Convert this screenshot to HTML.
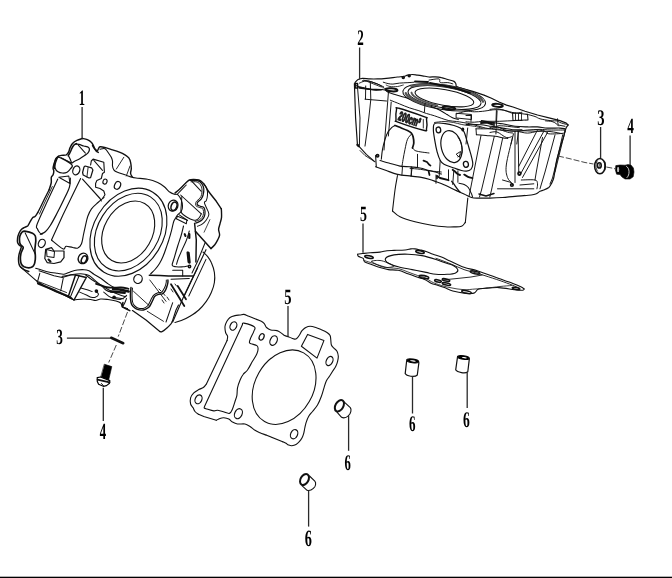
<!DOCTYPE html>
<html><head><meta charset="utf-8"><style>
html,body{margin:0;padding:0;background:#fff;width:672px;height:578px;overflow:hidden}
svg{display:block}
text{text-rendering:geometricPrecision}
.t{will-change:transform}
</style></head><body>
<svg width="672" height="578" viewBox="0 0 672 578">
<rect x="0" y="0" width="672" height="578" fill="#fff"/>
<g class="t" fill="none" stroke="#111" stroke-width="1" stroke-linejoin="round" stroke-linecap="round">

<!-- dowel A -->
<g>
<ellipse cx="412.7" cy="360.9" rx="6.1" ry="1.8" transform="rotate(8 412.7 360.9)" fill="#000" stroke="#000" stroke-width="1.1"/>
<ellipse cx="412.9" cy="360.9" rx="3.0" ry="0.6" transform="rotate(8 412.9 360.9)" fill="#fff" stroke="none"/>
<path d="M406.6,361.2 L405.2,373.6 M418.9,362.6 L417.3,375 M405.2,373.6 C406.5,376.2 414.8,377.6 417.3,375" stroke-width="1.2"/>
</g>
<g>
<ellipse cx="463.4" cy="357.5" rx="6.0" ry="1.8" transform="rotate(8 463.4 357.5)" fill="#000" stroke="#000" stroke-width="1.1"/>
<ellipse cx="464.3" cy="357.7" rx="2.6" ry="0.6" transform="rotate(8 464.3 357.7)" fill="#fff" stroke="none"/>
<path d="M457.5,357.2 L455.7,369.8 M469.3,359.1 L467.8,371.7 M455.7,369.8 C457.2,372.6 465.5,373.8 467.8,371.7" stroke-width="1.2"/>
</g>
<!-- dowel C -->
<ellipse cx="339.4" cy="405.7" rx="6.2" ry="3.9" transform="rotate(-60 339.4 405.7)" stroke-width="2"/>
<path d="M343.5,401.3 L350.3,407.6 C351.6,409.2 351.2,413.6 348.3,415.8 C346.5,417.4 343.5,418.2 341.6,417.3 L337.2,412.4" stroke-width="1.1"/>
<!-- dowel D -->
<ellipse cx="304.5" cy="479.5" rx="5.9" ry="3.9" transform="rotate(-60 304.5 479.5)" stroke-width="2"/>
<path d="M309.5,476 L314.8,481.1 C316.3,482.8 315.8,486.8 313.4,488.3 C311.8,489.8 309,490.8 307.1,490.3 L302.2,485.9" stroke-width="1.1"/>
<!-- washer TR -->
<ellipse cx="599.9" cy="166.1" rx="5.3" ry="7.6" stroke-width="1.5"/>
<path d="M597.5,171 C595.5,169 595.3,163 597.3,161" stroke-width="0.8"/>
<path d="M604.6,162 L605.2,166 L604.6,170" stroke-width="1.6"/>
<ellipse cx="599.3" cy="165.4" rx="1.9" ry="2.6" stroke-width="1.6"/>
<path d="M599.6,164 L599.2,167" stroke-width="0.7"/>
<!-- bolt TR -->
<path d="M616,165.6 L620,165 L625,165.2 L628,164.6 L631,165.1 L633.4,168 L634,172 L633.2,176.8 L630,179 L625,179 L622,177 L620,174.6 L616.6,174.2 L615.4,170 Z" fill="#000" stroke="#000" stroke-width="0.6"/>
<ellipse cx="618.1" cy="169.4" rx="1.1" ry="2.7" fill="#bbb" stroke="none"/>
<path d="M626.5,166.3 C629.8,168 630,175 627,177.6" stroke="#fff" stroke-width="0.8"/>
<!-- bolt left -->
<path d="M104.6,364.3 L111.8,366.6 L108.6,380.3 L101,377.2 Z" fill="#000" stroke="#000" stroke-width="0.6"/>
<path d="M97.2,377.6 L100.5,377 L109.8,380.6 L109.5,383.2 L106.5,385.6 L103.3,386.3 L98.6,384.2 L97.3,381.6 Z" fill="#fff" stroke="#000" stroke-width="1.2"/>
<path d="M97.5,379.6 L109.6,382.4" stroke-width="1.6"/>
<path d="M101.5,383.5 L103.5,385.8" stroke-width="1"/>
<!-- washer left (edge on) -->
<path d="M111.2,337.8 L123.2,343.2" stroke-width="2.6"/>
<path d="M82.5,138.5 C81.6,138.8 78.6,139.6 76.9,140.4 C75.2,141.2 73.7,142.2 72.5,143.5 C71.3,144.8 70.6,146.6 70,147.9 C69.4,149.2 69.4,150.4 68.8,151.6 C68.2,152.8 67.5,154.2 66.3,154.8 C65,155.4 62.7,155.1 61.3,155.4 C59.9,155.7 59,155.9 58.1,156.6 C57.2,157.3 56.3,158.4 55.6,159.8 C54.9,161.2 54.2,163.4 53.8,164.8 C53.4,166.2 53.1,167.5 53.1,168.5 C53.1,169.5 53.8,170 53.8,171 C53.8,172 53.6,173.4 53.2,174.5 C52.8,175.6 51.6,175.9 51.3,177.3 C51,178.7 51.6,180.9 51.2,183 C50.8,185.1 49.4,188.8 49,190" stroke-width="1.46"/>
<path d="M49,190 L44.8,198.3 L40.7,206.7 L37.8,212.5" stroke-width="1.34"/>
<path d="M52.3,186.5 L47.3,197 L43,206 L39.5,214" stroke-width="0.9"/>
<path d="M37.8,212.5 C37.3,213.2 35.8,215.8 35,216.6 C34.2,217.4 33.6,216.7 32.8,217.5 C32,218.3 30.8,220.5 30.3,221.3 C29.8,222.1 30.1,221.8 29.7,222.5 C29.3,223.2 28.8,224.8 27.9,225.7 C27,226.5 25.2,227 24.1,227.6 C23,228.2 22.2,228.6 21.3,229.5 C20.4,230.4 19.6,231.8 19,233.2 C18.4,234.6 17.8,236.3 17.6,237.9 C17.4,239.5 17.3,241.3 17.6,242.5 C17.9,243.7 18.9,244.6 19.5,245.3 C20.1,246 21.2,245.9 21.3,246.7 C21.4,247.5 20.8,248.7 20.4,250 C20,251.3 19.3,253.1 19,254.7 C18.7,256.2 18.5,257.8 18.5,259.3 C18.5,260.9 18.7,262.8 19,264 C19.3,265.2 19.5,265.9 20.4,266.8 C21.2,267.7 22.7,268.8 24.1,269.6 C25.5,270.4 28,271.2 28.8,271.5" stroke-width="1.46"/>
<path d="M20.4,266.8 L36.5,280.8" stroke-width="1.12"/>
<path d="M36.5,280.8 L44,285.8 L55.7,291.7 L64,295 L70.7,298.3 L74,300" stroke-width="1.12"/>
<path d="M82.5,138.5 C83.3,138.7 85.8,139 87.3,139.7 C88.8,140.4 90.5,141.5 91.5,142.5 C92.5,143.5 92.9,144.7 93.5,145.8 C94.1,146.9 94.5,148.4 95.2,149.2 C95.9,150 96.7,150.9 97.5,150.5 C98.3,150.1 98.5,147.2 100,146.8 C101.5,146.4 104.2,147.4 106.3,147.9 C108.4,148.4 110.2,149.1 112.5,149.8 C114.8,150.5 117.9,151.5 120,152.3 C122.1,153.1 123.5,153.9 125,154.8 C126.5,155.7 127.9,156.7 128.8,157.9 C129.7,159.2 130.2,160.5 130.6,162.3 C131,164.1 131.3,166.6 131.3,168.5 C131.3,170.4 130.4,172 130.6,173.5 C130.8,175 132.2,176.7 132.5,177.3" stroke-width="1.4"/>
<path d="M92.5,145.6 C92.8,146.1 93.8,147.8 94.4,148.7 C95,149.6 95.7,150.6 96.3,151.2 C96.9,151.8 98,152.2 98.3,152.4" stroke-width="1.46"/>
<path d="M100,149.3 C100.8,149.2 103.5,148 105,148.7 C106.5,149.4 107.8,152.1 108.8,153.5 C109.8,154.9 110.7,156.1 111.3,157.3 C111.9,158.6 112.3,159.6 112.5,161 C112.7,162.4 112.3,164.5 112.5,166 C112.7,167.5 113,168.8 113.8,169.8 C114.6,170.9 115.6,171.5 117.5,172.3 C119.4,173.1 122.9,174.1 125,174.8 C127.1,175.5 128.2,176.1 130,176.6 C131.8,177.1 133.1,177.6 136,178 C138.9,178.4 144.1,178.4 147.7,179.2 C151.3,179.9 154.9,181.2 157.7,182.5 C160.5,183.8 162.4,185.2 164.3,186.7 C166.2,188.2 167.6,190.4 169.3,191.7 C171,192.9 172.9,193.7 174.3,194.2 C175.7,194.7 176.5,193.6 177.7,194.6 C178.9,195.6 180.5,198.1 181.3,200 C182.1,201.9 182.5,204.4 182.5,206.3 C182.5,208.2 182.1,209.9 181.3,211.3 C180.5,212.8 178.4,213.9 177.5,215 C176.6,216.1 176.2,217 175.6,218.1 C175,219.2 174.3,219.9 173.8,221.3 C173.3,222.7 172.9,224.6 172.5,226.3 C172.1,228 171.9,229 171.3,231.3 C170.7,233.6 169.6,237.3 168.8,240 C168,242.7 167.2,244.8 166.3,247.5 C165.4,250.2 164.2,253.6 163.1,256.3 C162,259 160.8,261.3 159.5,263.5 C158.2,265.7 156.5,267.8 155,269.5 C153.5,271.2 151.2,273.2 150.5,274" stroke-width="1.12"/>
<path d="M123.8,157.3 L116.3,169.1" stroke-width="0.9"/>
<path d="M130,166 L126.3,176" stroke-width="0.9"/>
<path d="M76.5,143.6 C76.1,143.8 74.7,144.3 74,145 C73.3,145.7 72.8,146.6 72.3,147.5 C71.8,148.4 71.5,149.5 71,150.5 C70.5,151.5 70,152.6 69.5,153.5 C69,154.4 68.4,155.4 68.2,155.8" stroke-width="1.57"/>
<path d="M75.9,144.2 C76.4,144.2 77.7,144.1 79,144.4 C80.3,144.7 82.2,145.5 83.8,146 C85.4,146.5 87.7,146.8 88.6,147.5 C89.5,148.2 89.5,149 89.4,149.9 C89.3,150.8 88.6,152.2 87.8,153.1 C87,154 85.9,154.6 84.6,155.5 C83.3,156.4 81.5,157.7 79.8,158.7 C78.1,159.7 75.6,160.8 74.3,161.5 C73,162.2 72.6,163 71.9,162.7 C71.2,162.4 70.8,160.6 70.3,159.5 C69.8,158.4 69,156.8 68.7,156.3" stroke-width="1.23"/>
<path d="M78.3,145.1 L85.4,153.1" stroke-width="1.01"/>
<path d="M61.5,157.9 L71.9,163.3" stroke-width="1.01"/>
<path d="M57.6,157.6 C58.2,157.3 58.3,156.7 60.7,157.9 C63.1,159.1 70.3,163 71.9,164.8 C73.5,166.7 71.1,167.8 70.3,169 C69.5,170.2 68.4,171.5 67.1,172.2 C65.8,172.9 63.9,173.1 62.3,173 C60.7,172.9 58.8,172.2 57.6,171.4 C56.4,170.6 55.6,169.4 55.2,168.2 C54.8,167 54.9,165.8 55.2,164.3 C55.5,162.9 56.4,160.6 56.8,159.5 C57.2,158.4 57,157.9 57.6,157.6 Z" stroke-width="1.23"/>
<path d="M58.4,156.3 C58,156.7 56.6,157.6 56,158.5 C55.4,159.4 55.1,160.8 54.8,162 C54.5,163.2 54.3,164.9 54.2,166 C54.1,167.1 54.4,168.1 54.4,168.5" stroke-width="1.46"/>
<path d="M58.8,177.3 L68.8,176 L70,183.5 L58.8,177.3" stroke-width="1.01"/>
<path d="M70.3,178 C70.2,179.5 70.5,183.2 69.5,186.8 C68.5,190.4 66.2,194.7 64,199.3 C61.8,203.9 58.8,209.9 56.5,214.3 C54.2,218.7 52.2,222.6 50.3,225.5 C48.4,228.4 47,230.3 45.3,231.8 C43.6,233.3 41.1,233.9 40.3,234.3" stroke-width="1.23"/>
<path d="M80.6,178.5 L66.3,208 L62.9,215 L51.5,240" stroke-width="1.12"/>
<path d="M82.5,179.1 L100,198.5 L101.3,201" stroke-width="1.12"/>
<path d="M57.8,179 C56,182.8 50.5,194.4 47,202 C43.5,209.6 38.6,220 37,224.5 C35.4,229 37.1,227.7 37.5,229 C37.9,230.3 38.8,231.6 39.5,232.5 C40.2,233.4 41.6,234.1 42,234.4" stroke-width="1.12"/>
<path d="M85.2,166 L91.6,167.8 L92.9,170 L90.6,177.6 L89,178 L83.2,175 L82.6,172.5 L84,167 Z" stroke-width="1.23"/>
<path d="M88.1,167.5 L86.9,177" stroke-width="0.9"/>
<path d="M90.6,165 L91.3,161 L93.1,159.1 L103.8,162.3 L104.4,172.3 L102.5,173.5 L101.3,178.5 L96.9,180.4 L95.6,183.5 L95.6,187.3 L100,188.5 L103.8,191 L105,194.8 L102.5,198.5" stroke-width="1.12"/>
<path d="M93.8,160.4 L102.5,170.4" stroke-width="1.01"/>
<path d="M51.5,240 C53.4,241.5 60.5,247.7 62.8,248.8 C65.1,250 64.7,247.3 65.3,246.9 C65.9,246.5 65.2,246.2 66.5,246.3 C67.8,246.4 70.9,247.2 72.8,247.5 C74.7,247.8 76.3,248.7 77.8,248.1 C79.2,247.5 80.6,246 81.5,243.8 C82.4,241.6 82.8,237.9 83.4,235 C84,232.1 84.6,229.4 85.3,226.3 C86,223.2 86.8,219.2 87.8,216.3 C88.8,213.4 89.8,211.1 91.5,208.8 C93.2,206.5 95.9,204.4 98,202.5 C100.1,200.6 103,198.3 104,197.5" stroke-width="1.12"/>
<path d="M22.3,231.8 C23.3,231 24.3,231.1 26,231.3 C27.7,231.5 30.9,232.4 32.5,233.2 C34,234 34.8,234.8 35.3,236 C35.8,237.2 35.8,239.1 35.8,240.7 C35.8,242.2 35.4,243.8 35.3,245.3 C35.1,246.9 34.9,248.4 34.9,250 C34.9,251.6 35.2,253.1 35.3,254.7 C35.4,256.2 35.4,257.8 35.3,259.3 C35.1,260.9 34.9,262.8 34.4,264 C33.9,265.2 33.4,266.2 32.5,266.8 C31.6,267.4 30.2,267.8 28.8,267.8 C27.4,267.8 25.4,267.4 24.1,266.8 C22.9,266.2 21.9,265.2 21.3,264 C20.7,262.8 20.5,261 20.4,259.3 C20.3,257.6 20.6,255.2 20.9,253.7 C21.2,252.1 21.9,251.1 22.3,250 C22.7,248.9 23.5,248.1 23.2,247.2 C22.9,246.3 21,245.5 20.4,244.4 C19.8,243.3 19.6,242.1 19.5,240.7 C19.4,239.3 19.4,237.5 19.9,236 C20.4,234.5 21.3,232.6 22.3,231.8 Z" stroke-width="1.68"/>
<path d="M25.1,232.7 L35.3,254.2" stroke-width="1.01"/>
<path d="M45.7,249.3 L51.5,247.7 L54,251 L64,251 L64,257.7 L60.7,261.8 L54,263.5 L47.3,262.7 L44.8,258.5 Z" stroke-width="1.23"/>
<path d="M46.5,249.5 L54.5,251.5 L54,257.5 L47,256.5 Z" stroke-width="1.01"/>
<path d="M48.5,259.5 L50.5,261.5" stroke-width="2.02"/>
<ellipse cx="128.2" cy="232.0" rx="32.9" ry="24.05" transform="rotate(-60 128.2 232.0)" stroke-width="1.12"/>
<ellipse cx="128.3" cy="232.1" rx="41.6" ry="30.4" transform="rotate(-57.8 128.3 232.1)" stroke-width="1.12"/>
<ellipse cx="128.4" cy="232.2" rx="46.9" ry="34.9" transform="rotate(-58.6 128.4 232.2)" stroke-width="1.12"/>
<ellipse cx="173.1" cy="205.6" rx="4.8" ry="5.6" transform="rotate(20 173.1 205.6)" stroke-width="1.23"/>
<ellipse cx="174.0" cy="206.3" rx="2.8" ry="4.4" transform="rotate(20 174.0 206.3)" stroke-width="1.57"/>
<ellipse cx="76.3" cy="170.4" rx="3.4" ry="4.6" transform="rotate(20 76.3 170.4)" stroke-width="1.23"/>
<ellipse cx="41.8" cy="243.4" rx="3.3" ry="4.3" transform="rotate(25 41.8 243.4)" stroke-width="1.23"/>
<ellipse cx="83" cy="258.4" rx="4.7" ry="5.4" transform="rotate(25 83 258.4)" stroke-width="1.34"/>
<ellipse cx="84.0" cy="259.5" rx="2.4" ry="3.9" transform="rotate(25 84.0 259.5)" stroke-width="1.57"/>
<ellipse cx="138" cy="279" rx="4.2" ry="4.5" transform="rotate(20 138 279)" stroke-width="1.23"/>
<ellipse cx="117.5" cy="185.4" rx="2.9" ry="4.0" transform="rotate(25 117.5 185.4)" stroke-width="1.23"/>
<ellipse cx="105" cy="181.6" rx="2.0" ry="2.6" transform="rotate(20 105 181.6)" stroke-width="1.12"/>
<path d="M175,193.1 C175.8,192.4 178.3,190.4 180,188.8 C181.7,187.2 183.4,185.3 185,183.8 C186.6,182.3 187.9,180.7 189.4,180 C190.9,179.3 192.2,179.4 193.8,179.4 C195.4,179.4 197.4,179.5 198.8,180 C200.2,180.5 201.4,181.4 202.5,182.5 C203.6,183.6 204.8,185.1 205.6,186.3 C206.4,187.6 207.2,189.4 207.5,190" stroke-width="1.4"/>
<path d="M207.5,190 L211.3,195 L216.3,201.3 L221.3,208.8" stroke-width="1.4"/>
<path d="M221.3,208.8 C221.3,209.3 221.5,210.5 221.5,212 C221.5,213.5 221.7,215.7 221.5,217.6 C221.3,219.5 220.6,221.4 220.1,223.4 C219.6,225.4 218.7,227.4 218.6,229.3 C218.5,231.2 219.8,233.3 219.6,235.1 C219.4,236.9 218.5,238.3 217.7,239.9 C216.9,241.5 215.9,243.4 214.8,244.8 C213.7,246.2 211.6,248 210.9,248.6" stroke-width="1.4"/>
<path d="M177,194.5 L181.5,189.8 L186.3,185" stroke-width="1.01"/>
<path d="M190,180.3 C191.2,180.4 195.5,180 197.5,180.6 C199.5,181.2 200.8,182.4 201.9,183.8 C203,185.2 203.6,186.9 203.8,188.8 C204,190.7 203.5,193.3 203.1,195 C202.7,196.7 202.2,197.6 201.3,198.8 C200.4,200.1 198.1,201.5 197.5,202.5 C196.9,203.5 197,204.4 197.5,205 C198,205.6 199.5,205.9 200.6,206.3 C201.7,206.7 203.1,206.7 203.8,207.5 C204.5,208.3 204.9,209.8 205,211.3 C205.1,212.8 204.9,214.9 204.4,216.3 C203.9,217.8 202.8,219.1 201.9,220 C201,220.9 199.9,221.4 198.8,221.9 C197.8,222.4 196.1,222.9 195.6,223.1" stroke-width="1.23"/>
<path d="M191,181.8 C192,181.8 195.4,181.5 197,182 C198.6,182.5 199.7,183.8 200.5,185 C201.3,186.2 201.8,187.4 202,189 C202.2,190.6 201.9,193 201.6,194.5 C201.3,196 200.9,196.8 200,198 C199.1,199.2 196.9,200.5 196.2,201.8 C195.5,203.1 195.4,204.8 196,205.8 C196.6,206.8 198.7,207.1 199.8,207.6 C200.9,208.1 202,207.9 202.6,208.6 C203.2,209.2 203.4,210.3 203.5,211.5 C203.6,212.7 203.4,214.6 203,215.8 C202.6,217 201.6,218 200.8,218.8 C200,219.6 199,220 198,220.5 C197,221 195.5,221.4 195,221.6" stroke-width="0.9"/>
<path d="M203.8,183.8 C204.3,184.6 206.3,186.9 206.9,188.8 C207.5,190.7 207.6,193 207.5,195 C207.4,197 206.8,199.3 206.3,200.6 C205.8,201.8 204.4,201.3 204.4,202.5 C204.4,203.7 205.7,206 206.3,207.5 C206.9,209 207.7,210.1 208.1,211.3 C208.5,212.6 209.1,213.6 208.8,215 C208.5,216.4 207.4,218.5 206.3,220 C205.2,221.5 204,222.8 202.5,223.8 C201,224.9 198.3,225.9 197.5,226.3" stroke-width="1.01"/>
<path d="M191.9,181.3 L201.3,191.3" stroke-width="1.01"/>
<path d="M180.6,195 L201.3,213.8" stroke-width="1.01"/>
<path d="M181.9,196.3 C181.8,197.8 181.4,202.3 181.3,205 C181.2,207.7 180.3,210.4 181.3,212.5 C182.3,214.6 185.5,216.2 187.5,217.5 C189.5,218.8 191.6,219.6 193.1,220 C194.6,220.4 195.2,220.4 196.3,220 C197.4,219.6 198.6,218.5 199.4,217.5 C200.2,216.5 201,214.4 201.3,213.8" stroke-width="1.01"/>
<path d="M209.9,219.6 L204.1,232.2" stroke-width="0.78"/>
<path d="M177.5,216.3 L186.9,220 L186.3,223.8 L176.3,218.8 Z" stroke-width="1.01"/>
<path d="M195.4,231.2 L210.9,248.6" stroke-width="1.46"/>
<path d="M183.5,226 C183.1,227.7 182,232.7 181,236 C180,239.3 178.8,242.4 177.7,246 C176.6,249.6 175.2,254.5 174.3,257.7 C173.4,260.9 171.9,263.7 172.2,265.2 C172.5,266.7 174.2,266.5 176,266.8 C177.8,267.1 180.8,266.9 182.7,266.8 C184.6,266.7 186.9,266.1 187.7,266" stroke-width="1.12"/>
<path d="M189.3,231 C188.8,232.5 187.7,236.8 186.5,240 C185.3,243.2 183.3,247 182,250 C180.7,253 179.4,255.6 178.5,258 C177.6,260.4 176.8,263.2 176.5,264.3" stroke-width="1.01"/>
<path d="M194.6,223.5 L196.3,240 L195.9,262" stroke-width="1.46"/>
<path d="M189.3,234 L189.3,238" stroke-width="2.24"/>
<path d="M188.5,253 L189.5,262.5" stroke-width="2.46"/>
<path d="M205.1,242.8 L197.3,262 L192,273" stroke-width="1.01"/>
<path d="M206,249.7 L183.9,296 L172.7,322" stroke-width="1.12"/>
<path d="M197.7,267.7 L184.3,296" stroke-width="1.01"/>
<path d="M206,259.4 L188.8,296" stroke-width="1.01"/>
<ellipse cx="189.5" cy="266.5" rx="1.2" ry="1.2" transform="rotate(0 189.5 266.5)" stroke-width="1.46"/>
<path d="M149.3,275.2 L160,275.6 L168.5,276 L192.7,276" stroke-width="1.46"/>
<path d="M171,279.3 L189.3,278.5" stroke-width="1.01"/>
<path d="M172.7,270.2 L182.7,270.2 L182.7,276" stroke-width="1.01"/>
<path d="M171,284.3 L184.3,306" stroke-width="1.79"/>
<path d="M177.7,286 L186,299.3" stroke-width="1.79"/>
<path d="M172.7,302.7 L166,322" stroke-width="1.01"/>
<path d="M159,289 L161,291" stroke-width="0.9"/>
<path d="M163,293 L165,295.5" stroke-width="0.9"/>
<path d="M167,297 L169,300" stroke-width="0.9"/>
<path d="M171,289 L173,292" stroke-width="0.9"/>
<path d="M176,293 L177.5,295" stroke-width="0.9"/>
<path d="M162,300 L164,303" stroke-width="0.9"/>
<path d="M175,284 L176.5,286" stroke-width="0.9"/>
<path d="M203,252 C203.8,252.7 206.1,254.6 207.5,256.3 C208.9,258.1 210.2,259.8 211.3,262.5 C212.5,265.2 213.9,269.2 214.4,272.5 C214.9,275.8 214.9,279.2 214.4,282.5 C213.9,285.8 212.7,289.4 211.3,292.5 C210,295.6 208.4,298.4 206.3,301.3 C204.2,304.2 201.5,307.5 198.8,310 C196.1,312.5 192.9,314.5 190,316.3 C187.1,318.1 183.8,319.6 181.3,320.6 C178.8,321.6 176.1,322.2 175,322.5" stroke-width="1.12"/>
<path d="M167.9,280 C167.9,280.4 168.1,281.2 167.9,282.5 C167.7,283.8 167.1,286 166.6,287.5 C166.1,289 165.5,290.2 164.8,291.3 C164.1,292.4 163.4,293.3 162.3,293.8 C161.2,294.3 159.8,294 158.5,294.4 C157.2,294.8 155.7,295.4 154.8,296.3 C153.9,297.2 153.5,298.8 152.9,300 C152.3,301.2 151.7,302.6 151,303.8 C150.3,305.1 149.8,306.5 148.5,307.5 C147.2,308.5 145.4,309.7 143.5,310 C141.6,310.3 139.1,310 137.3,309.4 C135.5,308.8 134,307.4 132.9,306.3 C131.8,305.2 131.4,304.4 131,302.5 C130.6,300.6 130.4,297.5 130.4,295 C130.4,292.5 130.9,288.8 131,287.5" stroke-width="1.46"/>
<path d="M166.3,280 C166.3,280.4 166.4,281.4 166.2,282.5 C166,283.6 165.5,285.6 165,286.8 C164.5,288.1 163.9,289.1 163.3,290 C162.7,290.9 162.4,291.7 161.5,292.2 C160.6,292.7 159.2,292.4 158,292.8 C156.8,293.2 155.1,293.9 154,294.8 C152.9,295.8 152.2,297.2 151.5,298.5 C150.8,299.8 150.3,301.4 149.6,302.6 C148.9,303.9 148.6,305 147.5,306 C146.4,307 144.8,308.1 143.2,308.4 C141.6,308.7 139.3,308.4 137.8,307.9 C136.3,307.4 135.2,306.4 134.3,305.4 C133.4,304.4 133,303.7 132.6,302 C132.2,300.3 132,297.3 132,295 C132,292.7 132.4,289.2 132.5,288" stroke-width="1.01"/>
<path d="M133.5,291.3 L148.5,305" stroke-width="0.9"/>
<path d="M149.8,280 L166,301.3" stroke-width="0.9"/>
<path d="M132.5,310.6 L146,320 L159.8,331.5" stroke-width="1.23"/>
<path d="M159.8,331.5 C160.2,331.5 161,332.1 162,331.6 C163,331.2 164.5,330.1 166,328.8 C167.5,327.5 169.9,325.1 171,323.8 C172.1,322.6 172.1,321.7 172.3,321.3" stroke-width="1.23"/>
<path d="M172.3,321.3 L176,310 L178.5,305" stroke-width="1.12"/>
<path d="M147.3,311.3 L163.5,321.3" stroke-width="0.9"/>
<path d="M96,283.8 C98.1,284.4 104.3,286.9 108.5,287.5 C112.7,288.1 117.7,287.3 121,287.5 C124.3,287.7 127.2,288.6 128.5,288.8" stroke-width="1.79"/>
<path d="M111,291.5 L124.7,292.8" stroke-width="2.46"/>
<path d="M112.3,297.5 C113.2,297.6 116.1,297.8 118,298 C119.9,298.2 122.6,298.7 123.5,298.8" stroke-width="1.12"/>
<path d="M122.9,302.5 L122.3,306.9 L126,308.8 L129.8,310.6" stroke-width="1.57"/>
<path d="M35.7,268.3 C37.6,268.9 43.7,270.9 47.3,271.7 C50.9,272.5 54.5,272.9 57.3,273.3 C60.1,273.7 61.8,274.5 64,274.2 C66.2,273.9 68.5,272.4 70.7,271.7 C72.9,271 75.1,270.3 77.3,270 C79.5,269.7 82,269.6 84,269.7 C86,269.8 87.3,270.1 89,270.8 C90.7,271.6 92,272.9 94,274.2 C96,275.4 98.5,276.8 100.7,278.3 C102.9,279.8 105.1,281.8 107.3,283.3 C109.5,284.8 111.8,286.4 114,287.5 C116.2,288.6 118.7,289.4 120.7,290 C122.7,290.6 125.1,290.7 126,290.8" stroke-width="1.12"/>
<path d="M85.7,275 C86.8,275.8 89.8,278.3 92.3,280 C94.8,281.7 97.9,283.3 100.7,285 C103.5,286.7 106.5,288.6 109,290 C111.5,291.4 113.5,292.3 115.7,293.3 C117.9,294.3 120.6,295.2 122.3,295.8 C124,296.4 125.4,296.6 126,296.7" stroke-width="1.01"/>
<path d="M39,270.8 L54,275.8 L62.3,277.5 L70.7,275 L75.5,275" stroke-width="1.01"/>
<path d="M39.8,273.3 L37.3,282.5" stroke-width="1.01"/>
<path d="M63.2,278.3 L60.7,290.8" stroke-width="1.01"/>
<path d="M38,283.5 L55.7,290.8 L67.3,296 L71.5,298.3" stroke-width="2.02"/>
<path d="M39.5,282 L57,288.8 L66.5,292.5" stroke-width="0.9"/>
<path d="M75.5,275 L86.3,277.5 L74,300 L68.3,296.5 Z" stroke-width="1.46"/>
<path d="M79.2,275.5 L70.3,297.3" stroke-width="1.01"/>
<path d="M62,276.5 C63.7,276.1 68.9,274.8 72.4,274.4 C75.9,274 80,273.7 82.8,273.9 C85.6,274.1 87,274.4 89.1,275.5 C91.2,276.6 93.2,279 95.3,280.7 C97.4,282.4 99.8,284.3 101.6,285.9 C103.3,287.4 104.2,289 105.8,290 C107.4,291 109.3,291.8 111,292.1 C112.7,292.4 115.3,291.7 116.2,291.6" stroke-width="1.01"/>
<path d="M80.8,288 L88,290 L92.2,291.6" stroke-width="1.01"/>
<path d="M79.7,292.1 C80.9,292.6 85.1,294.4 87,295.3 C88.9,296.2 89.8,297 91.2,297.3 C92.6,297.6 94.1,297.8 95.3,297.3 C96.5,296.8 98.4,295.2 98.5,294.2 C98.6,293.2 96.4,291.9 96,291.5" stroke-width="1.01"/>
<ellipse cx="96.4" cy="291.1" rx="1.0" ry="1.0" transform="rotate(0 96.4 291.1)" stroke-width="1.68"/>
<ellipse cx="114.1" cy="297.3" rx="1.0" ry="1.0" transform="rotate(0 114.1 297.3)" stroke-width="1.68"/>
<path d="M103.7,292.1 C104.6,292.8 107.2,295.2 108.9,296.3 C110.6,297.4 112.2,297.9 114.1,298.4 C116,298.9 118.6,299.6 120.3,299.4 C122,299.2 123.5,298 124.5,297.3 C125.5,296.6 126.2,295.6 126.6,295.3" stroke-width="1.01"/>
<path d="M113,289 L120,289.5 L128.7,291.5" stroke-width="2.46"/>
<path d="M122.4,306.7 C122.8,306.2 123.8,305 124.5,303.6 C125.2,302.2 126.2,299.3 126.6,298.4" stroke-width="1.01"/>
<path d="M74,300 C74.5,299.9 75.6,299.7 77.3,299.5 C79,299.3 81.8,299 84,299 C86.2,299 88.8,299.2 90.7,299.5 C92.7,299.8 94,300.6 95.7,300.5 C97.4,300.4 98.7,299.2 100.7,299 C102.8,298.8 105.5,299.2 108,299.5 C110.5,299.8 113.9,300.4 116,301 C118.1,301.6 119.6,302.1 120.7,303 C121.8,303.9 121.3,305.8 122.4,306.7 C123.5,307.6 126.7,308.2 127.5,308.5" stroke-width="1.12"/>
<path d="M178.9,214.7 L187.6,220.5" stroke-width="1.01"/>
<path d="M187.6,252.5 L188.6,262" stroke-width="2.24"/>
<path d="M184.7,234.1 L185.5,236" stroke-width="2.02"/><path d="M355,82.6 C355.5,82.1 356.9,80.2 358.1,79.5 C359.4,78.8 360.5,78.4 362.5,78.3 C364.5,78.2 367.5,78.8 370,78.9 C372.5,79 374.8,79 377.5,78.9 C380.2,78.8 383,78.6 386.3,78.3 C389.6,78 394.6,77.3 397.5,77 C400.4,76.7 402.1,76.7 403.8,76.4 C405.5,76.1 406.1,75.4 407.5,75.1 C408.9,74.8 410.8,74.5 412.5,74.5 C414.2,74.5 415.8,74.9 417.5,75.1 C419.2,75.3 420.6,75.5 422.5,75.8 C424.4,76.1 426.9,76.8 429,77 C431.1,77.2 433.2,76.7 435.3,76.8 C437.4,76.9 439.4,77.1 441.5,77.6 C443.6,78 445.7,78.9 447.8,79.5 C449.9,80.1 452.6,80.7 454,81.4 C455.4,82.1 455.5,83.1 455.9,83.9 C456.3,84.7 455.6,85.7 456.5,86.4 C457.4,87.1 460.7,88 461.5,88.3" stroke-width="1.19"/>
<path d="M461.5,88.3 L472.8,91.4 L484,95.1 L491.5,98.3 L499,102 L506.5,105.1 L513,107 L525,111.3 L537.5,115 L550,118.1 L560,120.6 L566.3,123.1 L568.1,125" stroke-width="1.19"/>
<path d="M568.1,125 C567.8,125.4 566.8,126.5 566.3,127.5 C565.8,128.6 565.4,129.8 565,131.3 C564.6,132.8 564.4,134.2 563.8,136.3 C563.2,138.4 562.1,141.1 561.3,143.8 C560.5,146.5 559.6,149.5 558.8,152.5 C558,155.5 557.1,157.8 556.3,162 C555.5,166.2 554.6,173.9 553.8,177.5 C553,181.1 552.1,182.1 551.3,183.8 C550.5,185.5 550,186.5 548.8,187.5 C547.5,188.5 545.3,189.4 543.8,190 C542.3,190.6 541.2,190.7 540,191.3 C538.8,191.9 537.8,193.2 536.3,193.8 C534.8,194.4 534.8,194.6 531.3,195 C527.8,195.4 519.8,195.9 515,196.3 C510.2,196.7 506.7,197.2 502.5,197.5 C498.3,197.8 493.9,198 490,198.1 C486.1,198.2 482.1,198.2 479,198.1 C475.9,198 474,198.2 471.5,197.5 C469,196.8 466.9,195.3 464,194 C461.1,192.7 457.3,191.1 454,189.5 C450.7,187.9 446.9,186 444,184.7 C441.1,183.4 439,182.7 436.5,181.8 C434,180.9 431.8,180 429,179.2 C426.2,178.4 422.9,177.7 420,177.2 C417.1,176.7 415.1,176.6 411.3,176.1 C407.6,175.6 401.7,175.2 397.5,174.3 C393.3,173.4 389.9,171.8 386.3,170.5 C382.7,169.2 377.4,167.4 375.6,166.8" stroke-width="1.19"/>
<path d="M354.4,83.9 C354.9,84.3 355.9,85.7 357.5,86.4 C359.1,87.1 361.7,87.8 363.8,88.3 C365.9,88.8 367.9,89.2 370,89.5 C372.1,89.8 374.4,90.1 376.3,90.1 C378.2,90.1 379.9,89.5 381.3,89.5 C382.8,89.5 383.8,89.6 385,90.1 C386.2,90.6 387.1,91.9 388.8,92.6 C390.5,93.3 392.4,93.7 395,94.5 C397.6,95.3 401.4,96.3 404.6,97.3 C407.8,98.3 410.9,99.6 414.1,100.7 C417.3,101.8 420.8,103.1 423.6,104 C426.4,104.9 428.4,105.5 430.7,106.3 C433,107.1 435.5,108.2 437.4,109.1 C439.3,110 440.5,110.6 442.1,111.5 C443.7,112.4 445.4,113.5 447,114.5 C448.6,115.5 450.1,116.7 452,117.5 C453.9,118.3 457.2,119.2 458.3,119.6" stroke-width="1.08"/>
<path d="M456.4,113.9 C458,113.5 463,111.7 466,111.3 C469,110.9 471.5,111.8 474.3,111.8 C477.1,111.8 479.9,111.6 482.7,111.3 C485.5,111 488.8,110.4 491,110.1 C493.2,109.8 493.9,109.7 496,109.7 C498.1,109.7 501.3,109.7 503.5,110.1 C505.7,110.5 507.5,111.7 509.3,112.2 C511.1,112.8 512.2,113.4 514.3,113.4 C516.4,113.4 520.7,112.4 522,112.2" stroke-width="0.97"/>
<path d="M390.3,100.2 C391.9,100.8 396.6,102.7 399.8,104 C403,105.3 406.1,106.7 409.3,107.8 C412.5,108.9 416,109.8 418.9,110.7 C421.8,111.7 423.9,112.7 426.5,113.5 C429.1,114.3 432.1,115 434.5,115.8 C436.9,116.6 438.8,117.4 441.2,118.2 C443.6,119 446.3,120 448.8,120.6 C451.3,121.1 454,121.2 456.4,121.5 C458.8,121.8 460.4,122 463.1,122.5 C465.8,123 469.4,123.6 472.6,124.4 C475.8,125.2 479.4,126.5 482.1,127.2 C484.8,127.9 486,128.2 489,128.7 C492,129.2 496,129.6 500,130 C504,130.4 508.8,130.9 513,131 C517.2,131.1 520.9,130.8 525,130.8 C529.1,130.9 533.3,131.2 537.5,131.3 C541.7,131.4 545.8,131.1 550,131.5 C554.2,131.9 560.4,133.4 562.5,133.8" stroke-width="0.97"/>
<path d="M434.5,122.5 C436.1,122.3 440.8,121.5 444,121.5 C447.2,121.5 450.7,122 453.6,122.5 C456.5,123 459,123.9 461.2,124.4 C463.4,124.9 464.7,125 466.9,125.3 C469.1,125.6 472,125.8 474.5,126.3 C477,126.8 480.8,127.9 482.1,128.2" stroke-width="0.86"/>
<path d="M365,99.2 L386.5,101" stroke-width="0.97"/>
<path d="M359.5,83.1 C360.3,82.8 362.7,81.5 364.3,81.2 C365.9,80.9 367.2,80.9 369,81.2 C370.8,81.5 373.1,82.5 374.8,83.1 C376.6,83.7 378.2,84.3 379.5,85 C380.8,85.7 381.6,86.4 382.4,87 C383.2,87.6 384,88.2 384.3,88.4" stroke-width="0.97"/>
<path d="M358.6,86.5 C359.6,86.7 362.2,87.4 364.3,87.9 C366.4,88.4 368.6,89 371,89.3 C373.4,89.6 376.7,89.8 378.6,89.8 C380.5,89.8 381.8,89.4 382.4,89.3" stroke-width="0.97"/>
<path d="M383.3,82.2 C384.1,82.4 386.5,83.3 388.1,83.6 C389.7,83.9 391,84.2 392.9,84.1 C394.8,84 397.1,83.3 399.5,83.1 C401.9,82.9 404.7,82.8 407.1,82.7 C409.5,82.6 412.9,82.3 414,82.2" stroke-width="0.97"/>
<path d="M386.2,85 C386.8,85.2 388.1,86.2 390,86.5 C391.9,86.8 395.4,86.8 397.6,86.5 C399.8,86.2 402.4,85.2 403.3,85" stroke-width="0.86"/>
<path d="M354.4,83.9 L355.6,118 L357.5,145.5" stroke-width="1.19"/>
<path d="M357.5,87 L360,118 L359.4,144.9" stroke-width="0.97"/>
<path d="M370.3,82 L370.8,99.5 L368.8,118 L365,146.1" stroke-width="0.97"/>
<path d="M388.4,92.6 L385,136 L384,150" stroke-width="0.97"/>
<path d="M391.2,102.1 L388.4,136" stroke-width="0.97"/>
<path d="M357.5,144.9 L358.8,146.1" stroke-width="2.38"/>
<path d="M358.8,146.1 L366.3,154.3 L375,161.8" stroke-width="1.08"/>
<path d="M360,150.5 L365,155.5 L373.8,161.1" stroke-width="0.86"/>
<path d="M375.6,155.5 L376.3,166.8" stroke-width="1.08"/>
<ellipse cx="377.5" cy="155.8" rx="1.2" ry="1.2" transform="rotate(0 377.5 155.8)" stroke-width="1.62"/>
<path d="M380,160.5 C381.5,160.9 385.5,162.1 388.8,163 C392.1,163.9 396.5,165.5 400,166.1 C403.5,166.7 406.7,166.5 410,166.8 C413.3,167.1 416.8,167.4 420,168 C423.2,168.6 426.4,169.8 429,170.5 C431.6,171.2 433.2,171.4 435.3,172 C437.4,172.6 440.5,173.7 441.5,174" stroke-width="1.08"/>
<path d="M402.5,166.8 L401.9,174.9" stroke-width="0.97"/>
<path d="M411.3,166.8 L411.3,176.1" stroke-width="0.97"/>
<path d="M381.3,159.3 C381.5,157.6 381.9,152.6 382.5,149.3 C383.1,146 384.1,142.2 385,139.3 C385.9,136.4 387,133.8 388.1,131.8 C389.2,129.8 390.8,128.5 391.9,127.4 C393,126.4 394.5,125.8 395,125.5" stroke-width="1.08"/>
<path d="M395,125.5 C396.1,125.9 399.2,127.2 401.3,128 C403.4,128.8 405.8,129.7 407.5,130.5 C409.2,131.3 410.4,131.9 411.3,133 C412.2,134.1 412.7,135.1 413.1,136.8 C413.5,138.5 413.9,141.1 413.8,143 C413.7,144.9 412.7,147.2 412.5,148" stroke-width="1.73"/>
<path d="M411.3,134.3 C410.7,135.1 408.6,136.8 407.5,139.3 C406.4,141.8 405.7,146 405,149.3 C404.3,152.6 403.6,156.4 403.1,159.3 C402.6,162.2 402.1,165.6 401.9,166.8" stroke-width="0.97"/>
<path d="M412.5,148 C412.9,148.4 413.8,149.9 415,150.5 C416.2,151.1 417.7,151.4 420,151.8 C422.3,152.2 427.5,152.8 429,153" stroke-width="0.97"/>
<path d="M417.5,154.3 L417.5,166.8" stroke-width="0.97"/>
<path d="M397.5,175.5 C397.1,177.9 395.8,184.1 395,190 C394.2,195.9 392.9,207.5 392.5,211" stroke-width="1.08"/>
<path d="M392.5,211 C393.8,212 396.2,215 400,216.8 C403.8,218.6 409.7,220.4 415,221.8 C420.3,223.2 426.7,224.4 431.7,225.2 C436.7,226 441.3,226.5 445,226.8 C448.7,227.1 451.2,227 454,226.9 C456.8,226.8 459.6,227 461.5,226.3 C463.4,225.6 464.7,223.1 465.3,222.5" stroke-width="1.08"/>
<path d="M465.3,222.5 L467.8,198.1" stroke-width="1.08"/>
<path d="M396.5,109.7 C397,107.7 394.2,107.1 398.9,108.3 C403.6,109.5 420,115.2 424.6,116.9 C429.2,118.7 426.2,116.8 426.5,118.8 C426.8,120.8 427,126.9 426.5,128.8 C426,130.7 428.4,131.3 423.6,130.2 C418.8,129.1 402.5,123.8 397.9,122.1 C393.3,120.4 396.2,122.3 396,120.2 C395.8,118.1 396,111.7 396.5,109.7 Z" stroke-width="1.4"/>
<path d="M423.3,119.5 L423.3,128" stroke-width="0.86"/>
<text transform="translate(397.6,119.6) rotate(19) scale(0.52,1)" font-family="Liberation Sans" font-weight="bold" font-size="12.5" fill="#000" stroke="#222" stroke-width="1.3">200cm³</text>
<ellipse cx="444.4" cy="97.45" rx="29.8" ry="7.9" transform="rotate(10.2 444.4 97.45)" stroke-width="1.08"/>
<ellipse cx="444.5" cy="97.5" rx="37.0" ry="10.4" transform="rotate(9.6 444.5 97.5)" stroke-width="1.08"/>
<ellipse cx="444.2" cy="97.3" rx="41.8" ry="12.3" transform="rotate(8.6 444.2 97.3)" stroke-width="1.08"/>
<path d="M411.6,86.4 C412,86.3 413.1,86 413.9,85.8 C414.7,85.6 415.6,85.4 416.5,85.3 C417.5,85.2 418.4,85 419.4,84.9 C420.5,84.8 421.5,84.7 422.6,84.7 C423.7,84.6 424.8,84.6 426,84.6 C427.2,84.6 428.4,84.6 429.6,84.6 C430.8,84.6 432.1,84.7 433.3,84.8 C434.6,84.8 435.9,84.9 437.2,85.1 C438.5,85.2 439.8,85.3 441.1,85.5 C442.4,85.6 443.7,85.8 445.1,86 C446.4,86.2 447.7,86.4 449,86.7 C450.3,86.9 451.6,87.2 452.9,87.4 C454.2,87.7 455.5,88 456.7,88.3 C458,88.6 459.2,88.9 460.4,89.3 C461.6,89.6 462.8,90 464,90.3 C465.1,90.7 466.2,91.1 467.3,91.5 C468.3,91.8 469.4,92.2 470.4,92.6 C471.3,93.1 472.3,93.5 473.2,93.9 C474.1,94.3 474.9,94.7 475.7,95.2 C476.5,95.6 477.2,96 477.9,96.4 C478.6,96.9 479.2,97.3 479.7,97.8 C480.3,98.2 480.8,98.6 481.2,99.1 C481.6,99.5 482,99.9 482.3,100.3 C482.6,100.8 482.9,101.4 483,101.6" stroke-width="2.38" stroke="#555" stroke-dasharray="1.2,1"/>
<path d="M429.4,105.8 C429.1,105.7 428.4,105.5 427.9,105.4 C427.3,105.2 426.8,105.1 426.3,104.9 C425.8,104.8 425.3,104.6 424.8,104.5 C424.4,104.3 423.9,104.1 423.4,104 C422.9,103.8 422.4,103.7 422,103.5 C421.5,103.3 421.1,103.2 420.6,103 C420.2,102.8 419.7,102.7 419.3,102.5 C418.9,102.3 418.4,102.2 418,102 C417.6,101.8 417.2,101.6 416.8,101.5 C416.4,101.3 416,101.1 415.6,100.9 C415.2,100.7 414.9,100.6 414.5,100.4 C414.1,100.2 413.8,100 413.4,99.8 C413.1,99.6 412.8,99.5 412.4,99.3 C412.1,99.1 411.8,98.9 411.5,98.7 C411.2,98.5 410.9,98.4 410.6,98.2 C410.3,98 410.1,97.8 409.8,97.6 C409.6,97.4 409.3,97.2 409.1,97 C408.8,96.9 408.6,96.7 408.4,96.5 C408.2,96.3 408,96.1 407.8,95.9 C407.6,95.7 407.4,95.6 407.2,95.4 C407.1,95.2 406.9,95 406.8,94.8 C406.6,94.6 406.5,94.5 406.4,94.3 C406.2,94.1 406.1,93.9 406,93.7 C405.9,93.6 405.8,93.3 405.8,93.2" stroke-width="2.38" stroke="#555" stroke-dasharray="1.2,1"/>
<path d="M437.2,105.4 C436.9,105.3 436,105.1 435.4,105 C434.9,104.8 434.3,104.7 433.7,104.5 C433.2,104.4 432.6,104.3 432.1,104.1 C431.5,103.9 430.9,103.8 430.4,103.6 C429.9,103.5 429.3,103.3 428.8,103.1 C428.3,103 427.8,102.8 427.2,102.6 C426.7,102.5 426.2,102.3 425.7,102.1 C425.2,101.9 424.8,101.8 424.3,101.6 C423.8,101.4 423.4,101.2 422.9,101 C422.4,100.9 422,100.7 421.6,100.5 C421.1,100.3 420.7,100.1 420.3,99.9 C419.9,99.7 419.5,99.5 419.1,99.4 C418.7,99.2 418.4,99 418,98.8 C417.7,98.6 417.3,98.4 417,98.2 C416.7,98 416.3,97.8 416,97.6 C415.7,97.4 415.4,97.2 415.2,97 C414.9,96.8 414.6,96.6 414.4,96.5 C414.1,96.3 413.9,96.1 413.7,95.9 C413.5,95.7 413.3,95.5 413.1,95.3 C412.9,95.1 412.7,94.9 412.6,94.7 C412.4,94.5 412.3,94.4 412.2,94.2 C412.1,94 412,93.8 411.9,93.6 C411.8,93.4 411.7,93.3 411.7,93.1 C411.6,92.9 411.6,92.7 411.5,92.6" stroke-width="1.94" stroke="#555" stroke-dasharray="1.2,1"/>
<path d="M429,80.1 C430.7,79.9 437.1,78.5 439,78.9 C440.9,79.3 438.8,82 440.3,82.6 C441.8,83.2 445.7,82.4 447.8,82.6 C449.9,82.8 452,83.7 452.8,83.9" stroke-width="0.97"/>
<path d="M362.5,80.8 C363.3,80.8 365.6,80.5 367.5,80.8 C369.4,81.1 371.7,81.9 373.8,82.6 C375.9,83.3 378.3,84.4 380,85.1 C381.7,85.8 383.2,86.7 383.8,87" stroke-width="0.97"/>
<path d="M363.8,80.1 L381.3,87" stroke-width="0.86"/>
<path d="M430,83 L455,88 L470,93" stroke-width="1.94"/>
<path d="M415,81.5 L428,82" stroke-width="1.94"/>
<ellipse cx="391.5" cy="89.8" rx="6.0" ry="1.5" transform="rotate(5 391.5 89.8)" stroke-width="1.94"/>
<ellipse cx="448.8" cy="108.2" rx="6.5" ry="1.5" transform="rotate(5 448.8 108.2)" stroke-width="1.94"/>
<ellipse cx="497.5" cy="105.4" rx="5.3" ry="1.5" transform="rotate(5 497.5 105.4)" stroke-width="1.94"/>
<path d="M456.5,113.3 L471.5,114.5 L471.5,119.5 L456.5,118 Z" stroke-width="0.97"/>
<path d="M481.5,120.8 L494,123 L494,127" stroke-width="1.51"/>
<path d="M497.1,110.8 L495.9,134" stroke-width="0.97"/>
<path d="M425,103.3 L424.4,112" stroke-width="0.97"/>
<path d="M434,124.3 C434.7,123 435.9,123.1 437.8,123 C439.7,122.9 442.6,123.2 445.3,123.6 C448,124 451.5,124.8 454,125.5 C456.5,126.2 458.6,127 460.3,128 C462,129.1 463,129.9 464,131.8 C465,133.7 465.7,136.6 466.5,139.3 C467.3,142 468.2,145.1 469,148 C469.8,150.9 470.9,154.1 471.5,156.8 C472.1,159.5 472.9,162.2 472.8,164.3 C472.7,166.4 471.9,168.2 470.9,169.3 C469.8,170.4 468.1,170.9 466.5,171.1 C464.9,171.3 463.6,171 461.5,170.5 C459.4,170 456.9,169 454,168 C451.1,167 446.3,165.6 444,164.3 C441.7,163.1 441.4,162.6 440.3,160.5 C439.2,158.4 438.1,155.3 437.1,151.8 C436.2,148.3 435.2,142.9 434.6,139.3 C434,135.8 433.5,133 433.4,130.5 C433.3,128 433.3,125.5 434,124.3 Z" stroke-width="1.19"/>
<ellipse cx="451.5" cy="146.6" rx="10.2" ry="16.3" transform="rotate(-14 451.5 146.6)" stroke-width="1.19"/>
<path d="M457.8,136.8 C458.3,137.8 460.3,140.5 461,143 C461.7,145.5 462.3,149.7 462.1,151.8 C461.9,153.9 460.7,154.7 460,155.5 C459.3,156.3 458.2,156.6 457.8,156.8" stroke-width="0.97"/>
<path d="M456.5,154 L460.5,151.5 L459.5,157 Z" stroke-width="0.97"/>
<ellipse cx="438.4" cy="129.9" rx="2.3" ry="2.9" transform="rotate(-10 438.4 129.9)" stroke-width="1.3"/>
<ellipse cx="465.9" cy="164.3" rx="2.5" ry="3.0" transform="rotate(-10 465.9 164.3)" stroke-width="1.3"/>
<ellipse cx="462.8" cy="129.5" rx="0.8" ry="1.2" transform="rotate(0 462.8 129.5)" stroke-width="1.4"/>
<path d="M481,135.5 L470.3,190 L469,196.5" stroke-width="0.97"/>
<path d="M494.3,136.3 L481.5,190 L479.5,197" stroke-width="0.97"/>
<path d="M502.7,138 L491.5,190 L489.8,197" stroke-width="0.97"/>
<path d="M502.5,180 L511.3,182.5 L512.5,185" stroke-width="0.97"/>
<path d="M521.3,180 C523.6,180 532.3,179.4 535,180 C537.7,180.6 537.2,182.3 537.5,183.8 C537.8,185.3 537,188 536.9,188.8" stroke-width="0.97"/>
<path d="M520,185 L533.8,183.8" stroke-width="0.97"/>
<path d="M497.5,188.8 L533.8,188.8" stroke-width="0.97"/>
<ellipse cx="519.4" cy="173.6" rx="1.4" ry="1.6" transform="rotate(0 519.4 173.6)" stroke-width="1.73"/>
<ellipse cx="511.9" cy="185" rx="1.3" ry="1.3" transform="rotate(0 511.9 185)" stroke-width="1.62"/>
<path d="M479,194 L486,196 L494,193.5" stroke-width="1.51"/>
<path d="M490,109.4 C491.2,109.3 495,108.6 497.5,108.8 C500,109 502.5,109.9 505,110.5 C507.5,111.1 511.2,112.2 512.5,112.5" stroke-width="0.97"/>
<path d="M512.5,112.5 L527.5,114.4 L528,120 L513,120.5 Z" stroke-width="1.08"/>
<path d="M515.5,113 L515.5,120.3" stroke-width="0.86"/>
<path d="M518.5,113.4 L518.5,120.2" stroke-width="0.86"/>
<path d="M521.5,113.7 L521.5,120.1" stroke-width="0.86"/>
<path d="M527.5,114.4 C528.8,114.8 532.9,115.8 535,116.5 C537.1,117.2 537.5,118.1 540,118.8 C542.5,119.5 547.1,120.2 550,120.6 C552.9,121 555.8,120.7 557.5,121 C559.2,121.3 558.5,121.9 560,122.5 C561.5,123.1 565.2,124.1 566.3,124.4" stroke-width="0.97"/>
<path d="M557.5,118.8 L558.1,125 L565,126.3" stroke-width="0.97"/>
<path d="M490,122.5 C492.1,122.7 498.3,123.2 502.5,123.8 C506.7,124.4 510.8,125.8 515,126.3 C519.2,126.8 523.8,126.8 527.5,126.9 C531.2,127 534.2,126.7 537.5,126.9 C540.8,127.1 543.8,127.9 547.5,128.1 C551.2,128.3 557.1,128 560,128.1 C562.9,128.2 564.2,128.7 565,128.8" stroke-width="1.08"/>
<path d="M490,127.5 C491.2,127.4 495,126.5 497.5,126.9 C500,127.3 502.1,129.3 505,130 C507.9,130.7 511.2,131.3 515,131.3 C518.8,131.3 523.3,130.3 527.5,130 C531.7,129.7 536.2,129.4 540,129.4 C543.8,129.4 545.8,129.9 550,130 C554.2,130.1 562.5,130 565,130" stroke-width="0.97"/>
<path d="M490,132.5 C491.2,132.4 494.3,131.2 497,132 C499.7,132.8 503.8,136.8 506.3,137.5 C508.8,138.2 511.1,136.7 512,136.5" stroke-width="0.97"/>
<path d="M517.5,131.3 C519.2,131.6 524.2,133.1 527.5,133.1 C530.8,133.1 534.8,131.7 537.5,131.3 C540.2,130.9 541.9,130.2 543.8,130.6 C545.7,131 545.5,133.4 548.8,133.8 C552.1,134.2 561.2,133.7 563.8,133.1 C566.4,132.5 564.3,130.5 564.4,130" stroke-width="0.97"/>
<path d="M512.5,137.5 C511.5,142.1 507.1,158.3 506.3,165 C505.5,171.7 506.5,174.4 507.5,177.5 C508.5,180.6 511.7,182.8 512.5,183.8" stroke-width="0.97"/>
<path d="M515,131.3 L515,182.5" stroke-width="0.97"/>
<path d="M518.1,132.5 L518.8,175" stroke-width="0.97"/>
<path d="M537.5,130 L518.8,166.3" stroke-width="0.97"/>
<path d="M543.8,131.3 L520,175" stroke-width="0.97"/>
<path d="M547.5,132.5 L522.5,177.5" stroke-width="0.97"/>
<path d="M542.5,137.5 L536.3,172 L535,180" stroke-width="0.97"/>
<path d="M555,135 L545,172 L540,188.8" stroke-width="0.97"/>
<path d="M565,131.3 L555,172" stroke-width="0.97"/>
<path d="M496.4,110.5 L496,121.3" stroke-width="0.97"/>
<path d="M466,121.8 C467.4,121.9 471.5,122.3 474.3,122.2 C477.1,122.1 479.9,121.5 482.7,121.3 C485.5,121.1 488.2,121.3 491,121.3 C493.8,121.3 496.5,121.4 499.3,121.3 C502.1,121.2 504.9,121 507.7,120.9 C510.5,120.8 513.6,120.6 516,120.5 C518.4,120.4 521,120.5 522,120.5" stroke-width="0.97"/>
<path d="M466,124.7 C466.8,124.6 468.5,124.3 471,124.3 C473.5,124.3 477.7,124.4 481,124.7 C484.3,125 488.2,125.9 491,126.3 C493.8,126.7 495.5,126.8 497.7,127.2 C499.9,127.6 501.8,128 504.3,128.4 C506.8,128.8 509.8,129.5 512.7,129.7 C515.7,129.9 520.5,129.7 522,129.7" stroke-width="1.08"/>
<path d="M476,128.8 C477.8,128.8 483.6,128.9 486.8,128.8 C490,128.7 493.4,128.5 495.2,128 C497,127.5 496.3,126.2 497.7,125.9 C499.1,125.6 501.1,125.8 503.5,125.9 C505.9,126.1 509.2,126.5 511.8,126.8 C514.4,127.1 518,127.5 519.3,127.6" stroke-width="0.97"/>
<path d="M476,128.8 L476.4,134.7" stroke-width="0.97"/>
<path d="M476.4,134.7 C478,134.8 482.9,135.2 486,135.5 C489.1,135.8 492.3,135.9 495.2,136.3 C498.1,136.7 501.4,137.7 503.5,138 C505.6,138.3 507,138.3 507.7,138.4" stroke-width="1.08"/>
<path d="M497.7,128.8 C499.4,129.4 505.2,131.5 507.7,132.2 C510.2,132.9 511.9,132.9 512.7,133" stroke-width="0.97"/>
<path d="M481,123 L487,122.5 L492.7,124.5" stroke-width="1.94"/>
<path d="M513.5,133.8 L511,144" stroke-width="0.97"/>
<path d="M518.5,131.3 L516.8,144" stroke-width="0.97"/>
<path d="M467.7,128 L466,144" stroke-width="0.97"/>
<path d="M466,115.5 L471,115.5 L471,121.3" stroke-width="0.97"/>
<path d="M365.7,86 L365.5,99" stroke-width="0.97"/>
<path d="M355,83.5 L357.5,83.5 L357.8,88 L355.3,88 Z" stroke-width="1.51"/>
<ellipse cx="403.3" cy="77.6" rx="1.0" ry="0.9" transform="rotate(0 403.3 77.6)" stroke-width="1.51"/>
<ellipse cx="409.2" cy="75.8" rx="1.0" ry="0.9" transform="rotate(0 409.2 75.8)" stroke-width="1.51"/>
<path d="M359.5,87.9 L370,89.2 L381.4,89.8" stroke-width="1.62"/>
<path d="M412.1,167.7 L411,176" stroke-width="0.97"/>
<path d="M436,175 L436,183.3" stroke-width="0.97"/>
<path d="M440.2,160.4 L439.2,176" stroke-width="0.97"/>
<path d="M448.5,169.8 L448.5,180.2" stroke-width="0.97"/>
<path d="M453.8,170.8 L452.7,184.4" stroke-width="0.97"/>
<path d="M457.9,170.8 L457.9,182.3" stroke-width="0.97"/>
<path d="M410,168.3 C411.7,168.5 416.9,168.9 420.4,169.3 C423.9,169.8 427.3,170.6 430.8,171 C434.3,171.4 439.6,171.8 441.3,172" stroke-width="0.97"/>
<path d="M423.5,160.6 L427,162 L429,164.5 L430.5,165.6" stroke-width="1.73"/>
<path d="M428.5,170.8 L429.5,175" stroke-width="1.73"/>
<path d="M437,176 L440,178 L448.5,180.2" stroke-width="1.84"/>
<path d="M437,176 L437,178.5" stroke-width="1.62"/>
<path d="M452.7,169.8 C453.1,170.1 454.3,170.9 455,171.5 C455.7,172.1 456.2,172.9 457,173.5 C457.8,174.1 459.5,174.8 460,175" stroke-width="1.94"/>
<path d="M464.2,174.6 C464.8,175 466.6,176.2 468,176.8 C469.4,177.4 471.8,177.9 472.5,178.1" stroke-width="1.84"/>
<path d="M451.7,181.3 C452.2,182 453.8,184 454.8,185.4 C455.8,186.8 457,188.5 457.9,189.6 C458.8,190.7 459.6,191.6 460,192" stroke-width="1.3"/>
<path d="M459,183.3 C459.9,183.5 462.6,183.7 464.2,184.4 C465.8,185.1 467.1,185.9 468.3,187.5 C469.5,189.1 470.8,192.2 471.5,193.8 C472.2,195.4 472.3,196.4 472.5,196.9" stroke-width="1.08"/>
<path d="M562.7,134.9 L557,160 L552.5,178 L550,184" stroke-width="0.97"/>
<path d="M545.6,120.9 C546.7,121 550.3,121.1 552,121.5 C553.7,121.9 554.9,122.8 556,123.5 C557.1,124.2 558.1,125.6 558.5,126" stroke-width="0.97"/><path d="M357.6,254.2 C358.4,254.1 360.4,253.7 362.5,253.5 C364.6,253.3 367.3,253 370.2,252.8 C373.1,252.6 377.2,252.4 380,252.1 C382.8,251.8 384.7,251 387,250.7 C389.3,250.4 391,250.5 394,250.4 C397,250.3 402.3,250.2 405.1,250 C407.9,249.8 409.1,249.1 410.7,248.9 C412.3,248.7 413.3,248.7 414.9,248.9 C416.5,249.1 418.6,249.6 420.5,250 C422.4,250.4 424,250.7 426.1,251.4 C428.2,252.1 430.5,253.3 433.1,254.2 C435.7,255.1 438.7,255.9 441.5,257 C444.3,258.1 446.2,259.3 450,261 C453.8,262.7 459.8,265.8 464,267.3 C468.2,268.8 471.7,269.1 475.2,270.1 C478.7,271.2 481.1,272.2 485,273.6 C488.9,275 494.2,276.9 498.9,278.5 C503.5,280.1 509.2,282 512.9,283.4 C516.6,284.8 519.4,286 521.3,286.9 C523.2,287.8 523.6,288.6 524.1,289" stroke-width="1.1"/>
<path d="M436,258.3 C438.3,259.2 445.3,261.7 450,263.6 C454.7,265.5 459.8,268.1 464,269.6 C468.2,271.1 471.5,271.6 475,272.6 C478.5,273.6 480.8,274.4 485,275.7 C489.2,277 495.5,279.1 500,280.6 C504.5,282.2 508.7,283.7 512,285 C515.3,286.3 518.6,287.8 519.9,288.3" stroke-width="0.9"/>
<path d="M524.1,289 C523.9,289.2 524.3,290.2 522.7,290.3 C521.1,290.4 518.3,290.1 514.3,289.7 C510.3,289.2 503.8,287.8 498.9,287.6 C494,287.4 488.5,288 485,288.3 C481.5,288.6 479.8,288.5 478,289.3 C476.2,290.1 476.3,292.5 474,293.1 C471.7,293.7 467.5,293.5 464,293.1 C460.5,292.8 456.1,291.9 452.8,291 C449.5,290.1 447.2,288.6 444.4,287.6 C441.6,286.6 438.1,285.5 436,284.8 C433.9,284.1 433.6,284.5 431.7,283.6 C429.8,282.7 427,280.4 424.7,279.4 C422.4,278.3 420.5,278.2 417.7,277.3 C414.9,276.4 411.2,275 408,273.8 C404.8,272.6 401.5,271 398.2,270.3 C394.9,269.6 391.4,270.1 388.4,269.6 C385.4,269.1 383,268.4 380,267.5 C377,266.6 372.8,264.9 370.2,264 C367.6,263.1 365.8,262.8 364.6,261.9 C363.4,261 364.2,259.3 363.2,258.4 C362.1,257.5 359.2,257 358.3,256.3 C357.4,255.6 357.7,254.5 357.6,254.2" stroke-width="1.1"/>
<path d="M363.9,260.5 C364.9,260.8 367.5,261.6 370.2,262.4 C372.9,263.2 377,264.6 380,265.5 C383,266.4 385.4,267.3 388.4,267.8 C391.4,268.3 394.9,267.8 398.2,268.5 C401.5,269.2 404.8,270.8 408,272 C411.2,273.2 414.9,274.6 417.7,275.5 C420.5,276.4 422.4,276.6 424.7,277.6 C427,278.7 429.4,280.6 431.7,281.8 C434,283 435.6,283.6 438.7,284.6 C441.8,285.6 445.8,286.8 450,287.6 C454.2,288.5 459.8,289.5 464,289.7 C468.2,289.9 471.5,289.2 475,289 C478.5,288.8 480.8,288.7 485,288.3 C489.2,287.9 495.6,287 500,286.5 C504.4,286 509.6,285.7 511.5,285.5" stroke-width="0.8"/>
<path d="M385.6,258.4 C386.5,257 390.3,255.6 394,254.9 C397.7,254.2 403.3,254.1 408,254.2 C412.7,254.3 417.3,254.7 422,255.6 C426.7,256.5 432.3,258.3 436,259.5 C439.7,260.7 441.6,261.7 444.4,262.6 C447.2,263.6 450.6,264.1 452.8,265.2 C455,266.3 457.2,268.1 457.7,269.4 C458.2,270.7 457.4,272.1 455.6,272.9 C453.9,273.7 450.5,274.1 447.2,274.3 C443.9,274.5 439.5,274.6 436,274.3 C432.5,274 430.1,273.2 426.1,272.4 C422.1,271.6 416.8,270.5 412.1,269.6 C407.5,268.7 402.1,267.9 398.2,266.8 C394.2,265.8 390.5,264.7 388.4,263.3 C386.3,261.9 384.7,259.8 385.6,258.4 Z" stroke-width="1.1"/>
<path d="M443,279.9 L457,278.5 L471,277 L482.2,275" stroke-width="0.9"/>
<path d="M371.6,261.2 C372.1,260.5 377.4,260.3 380,260.5 C382.6,260.7 384.7,261.7 387,262.6 C389.3,263.5 394.2,265.3 394,266.1 C393.8,266.9 388.4,267.7 385.6,267.5 C382.8,267.3 379.5,265.8 377.2,264.7 C374.9,263.6 371.1,261.9 371.6,261.2 Z" stroke-width="0.9"/>
<ellipse cx="369" cy="257" rx="4.3" ry="1.2" transform="rotate(12 369 257)" stroke-width="1.6"/>
<ellipse cx="420" cy="252" rx="4.3" ry="1.2" transform="rotate(12 420 252)" stroke-width="1.6"/>
<ellipse cx="424" cy="277" rx="4.8" ry="1.4" transform="rotate(12 424 277)" stroke-width="1.6"/>
<ellipse cx="438" cy="281" rx="3.4" ry="1.1" transform="rotate(12 438 281)" stroke-width="1.6"/>
<ellipse cx="475" cy="272.5" rx="4.8" ry="1.3" transform="rotate(12 475 272.5)" stroke-width="1.6"/>
<ellipse cx="446" cy="280" rx="3.8" ry="1.1" transform="rotate(12 446 280)" stroke-width="1.6"/>
<ellipse cx="446.5" cy="284" rx="4.2" ry="1.1" transform="rotate(12 446.5 284)" stroke-width="1.6"/>
<ellipse cx="466.5" cy="292" rx="4.8" ry="1.3" transform="rotate(12 466.5 292)" stroke-width="1.6"/>
<ellipse cx="516" cy="288.5" rx="3.8" ry="1.0" transform="rotate(12 516 288.5)" stroke-width="1.6"/>
<path d="M227.1,340.4 C227.2,339.7 227.8,337.6 227.6,336.3 C227.3,335 226,334.2 225.6,332.5 C225.2,330.8 224.8,328.2 225,326.3 C225.2,324.4 226.1,322.8 226.9,321.3 C227.7,319.8 228.7,318.4 230,317.5 C231.3,316.6 233.3,316 235,315.6 C236.7,315.2 238.5,315.2 240,315 C241.5,314.8 242.3,314.2 243.8,314.4 C245.3,314.6 246.9,315.6 248.8,316.3 C250.7,317 252.9,318 255,318.8 C257.1,319.6 259.7,320.5 261.3,321.3 C262.9,322.1 263.5,322.8 264.4,323.8 C265.3,324.8 265.4,326.5 266.5,327.5 C267.6,328.5 269.1,329.5 270.8,330 C272.6,330.5 275.2,330.1 277,330.6 C278.8,331.1 280.1,332.3 281.4,333.1 C282.6,333.9 283.2,335 284.5,335.6 C285.8,336.2 287.4,336.4 288.9,336.9 C290.4,337.4 292.1,338.5 293.3,338.8 C294.6,339.1 295.4,339.4 296.4,338.8 C297.4,338.2 298.6,336.4 299.5,335 C300.4,333.6 300.9,331.9 302,330.6 C303.1,329.4 304.4,328.2 305.8,327.5 C307.2,326.8 308.4,326.3 310.1,326.3 C311.8,326.3 313.8,326.9 315.8,327.5 C317.8,328.1 320.1,329.2 322,330 C323.9,330.8 325.6,331.6 327,332.5 C328.4,333.4 329.5,334.4 330.1,335.6 C330.7,336.9 330.6,338.4 330.8,340 C331,341.6 330.9,343.6 331.4,345 C331.9,346.4 333,347.1 333.9,348.1 C334.8,349.2 336.3,349.9 337,351.3 C337.7,352.7 338.2,354.6 338.3,356.3 C338.4,358 338,359.6 337.6,361.3 C337.2,363 336.6,364.6 335.8,366.3 C335,368 333.7,369.6 332.6,371.3 C331.6,373 330.6,374.7 329.5,376.3 C328.4,377.9 327.2,379.1 326.3,381 C325.4,382.9 324.8,385.2 324,387.8 C323.2,390.4 322.4,393.6 321.3,396.5 C320.2,399.4 319,402.5 317.5,405 C316,407.5 314,409.6 312.5,411.5 C311,413.4 309.7,414.6 308.6,416.5 C307.5,418.4 306.6,420.9 306,422.8 C305.4,424.7 305.2,426.1 304.8,428 C304.4,429.9 304,432.5 303.5,434.2 C303,435.9 302.5,437.1 301.8,438.3 C301.1,439.6 300.3,440.6 299.3,441.7 C298.3,442.8 297.2,443.9 296,444.6 C294.8,445.3 293.1,445.7 291.8,445.8 C290.6,445.9 289.5,445.4 288.5,445 C287.5,444.6 287,443.9 286,443.3 C285,442.8 283.2,442 282.7,441.7" stroke-width="1.1"/>
<path d="M282.7,441.7 L266,435" stroke-width="1.1"/>
<path d="M266,435 C265,434.6 261.8,433.6 260,432.8 C258.2,432 256.7,431.4 255,430.3 C253.3,429.2 251.7,427.6 250,426.5 C248.3,425.4 247.1,424.4 245,424 C242.9,423.6 239.6,424.3 237.5,424 C235.4,423.7 233.9,422.9 232.5,422.1 C231.1,421.3 230.2,419.7 228.8,419 C227.4,418.3 225.3,417.9 223.8,417.8 C222.3,417.7 221.2,418 220,418.4 C218.8,418.8 216.9,420 216.3,420.3" stroke-width="1.1"/>
<path d="M216.3,420.3 L203.8,416.5 L198.5,414.3" stroke-width="1.1"/>
<path d="M198.5,414.3 C197.9,413.8 195.9,412.6 195,411.5 C194.1,410.4 193.8,409.1 193.1,407.8 C192.4,406.6 191,405.7 190.6,404 C190.2,402.3 190.1,399.7 190.6,397.8 C191.1,395.9 192.4,394.2 193.8,392.8 C195.2,391.4 197.2,390.5 198.8,389.6 C200.4,388.7 202,388.4 203.3,387.5 C204.6,386.6 205.9,384.6 206.4,384" stroke-width="1.1"/>
<path d="M206.4,384 L227.1,340.4" stroke-width="1.1"/>
<path d="M242.5,324.5 L204.5,406.5" stroke-width="1.1"/>
<path d="M204.5,406.5 C204.5,406.8 203.9,407.6 204.3,408 C204.7,408.4 205.3,408.5 206.9,409 C208.5,409.5 212,410.7 213.8,410.9 C215.6,411.1 216.1,410.2 217.5,410.3 C218.9,410.4 220.5,411 222.5,411.5 C224.5,412 227.7,413.8 229.4,413.4 C231.1,413 231.6,411 232.5,409 C233.4,407 234.3,403.8 235,401.5 C235.7,399.2 236.5,397.6 236.9,395.3 C237.3,393 237,390.3 237.5,387.8 C238,385.3 239.1,382.5 240,380.3 C240.9,378.1 241.8,376.2 243.1,374.5 C244.3,372.8 245.9,372.2 247.5,370 C249.1,367.8 250.9,364 252.5,361.3 C254.1,358.6 256,355.9 256.9,353.8 C257.8,351.7 258.1,350.2 258.1,348.8 C258.1,347.4 258,346.4 256.9,345.6 C255.8,344.8 252.6,344.3 251.3,343.8 C250.1,343.3 249.5,343.4 249.4,342.5 C249.3,341.6 249.9,340 250.6,338.1 C251.3,336.2 253.2,333.2 253.8,331.3 C254.4,329.4 256.1,328.3 254.4,326.9 C252.7,325.5 245.8,323.5 243.8,323.1 C241.8,322.7 242.7,324.3 242.5,324.5" stroke-width="1.1"/>
<ellipse cx="284.1" cy="387.2" rx="39.5" ry="29.0" transform="rotate(-60.3 284.1 387.2)" stroke-width="1.1"/>
<path d="M307.6,334.4 L323.9,340.6 L317,358.1 L301.4,346.3 Z" stroke-width="1.1"/>
<ellipse cx="233.4" cy="326" rx="3.2" ry="4.4" transform="rotate(25 233.4 326)" stroke-width="1.2"/>
<ellipse cx="273.6" cy="340.6" rx="3.4" ry="5.0" transform="rotate(25 273.6 340.6)" stroke-width="1.2"/>
<ellipse cx="261.6" cy="336.9" rx="2.3" ry="3.4" transform="rotate(25 261.6 336.9)" stroke-width="1.2"/>
<ellipse cx="329.5" cy="361" rx="3.2" ry="4.8" transform="rotate(25 329.5 361)" stroke-width="1.2"/>
<ellipse cx="198.5" cy="399.3" rx="3.3" ry="4.6" transform="rotate(25 198.5 399.3)" stroke-width="1.2"/>
<ellipse cx="238.4" cy="413.7" rx="3.7" ry="5.2" transform="rotate(25 238.4 413.7)" stroke-width="1.2"/>
<ellipse cx="294.1" cy="434.2" rx="3.4" ry="4.8" transform="rotate(25 294.1 434.2)" stroke-width="1.2"/>
</g>
<g fill="none" stroke="#2a2a2a" stroke-width="1.3"><path d="M82.1,107.0 L82.1,138.5"/><path d="M359.6,47.5 L359.6,79.5"/><path d="M600.6,127.0 L600.6,158.0"/><path d="M630.1,135.5 L630.1,165.0"/><path d="M363.0,223.4 L363.0,252.8"/><path d="M288.0,306.0 L288.0,336.6"/><path d="M66.9,338.1 L111.0,338.1"/><path d="M103.3,387.7 L103.3,421.0"/><path d="M412.5,376.0 L412.5,413.5"/><path d="M467.2,372.2 L467.2,408.0"/><path d="M348.6,415.8 L348.6,450.8"/><path d="M308.6,490.5 L308.6,526.6"/></g>
<g fill="none" stroke="#333" stroke-width="0.9" stroke-dasharray="6,2"><path d="M558.0,156.0 L569.0,158.5 L585.0,162.5 L593.5,164.0"/><path d="M606.3,167.0 L615.4,168.7"/><path d="M127.5,312.0 L118.2,336.6"/><path d="M116.3,345.0 L108.7,362.5"/></g>
<g class="t" font-family="Liberation Serif" font-weight="bold" fill="#000"><text transform="translate(78.81,104.80) scale(0.566,1)" font-size="21.97">1</text><text transform="translate(357.28,45.40) scale(0.588,1)" font-size="22.12">2</text><text transform="translate(597.32,124.90) scale(0.651,1)" font-size="22.42">3</text><text transform="translate(627.30,133.00) scale(0.615,1)" font-size="21.67">4</text><text transform="translate(359.94,221.10) scale(0.641,1)" font-size="21.67">5</text><text transform="translate(284.32,303.60) scale(0.673,1)" font-size="21.67">5</text><text transform="translate(56.37,343.75) scale(0.606,1)" font-size="21.74">3</text><text transform="translate(99.60,439.30) scale(0.579,1)" font-size="23.03">4</text><text transform="translate(409.04,431.40) scale(0.584,1)" font-size="22.42">6</text><text transform="translate(463.03,426.80) scale(0.605,1)" font-size="22.42">6</text><text transform="translate(344.56,470.10) scale(0.564,1)" font-size="22.42">6</text><text transform="translate(304.70,546.00) scale(0.611,1)" font-size="23.33">6</text></g>
<rect x="0" y="576.7" width="672" height="1.3" fill="#000"/>
</svg>
</body></html>
